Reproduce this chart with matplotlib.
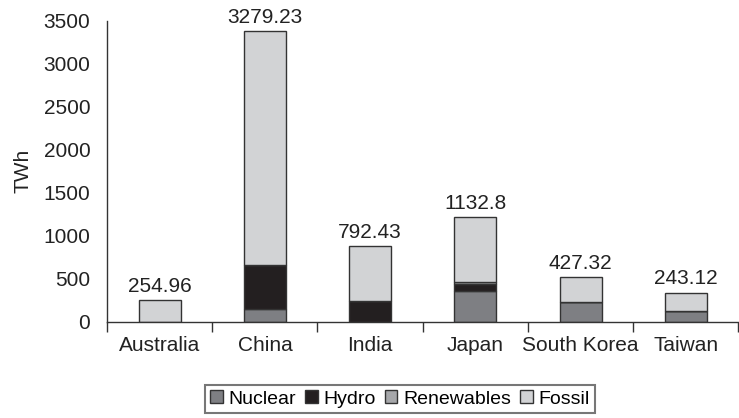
import matplotlib
matplotlib.use("Agg")
import matplotlib.pyplot as plt
import numpy as np

countries = ["Australia", "China", "India", "Japan", "South Korea", "Taiwan"]
nuclear = [0, 148, 0, 357, 233, 128]
hydro = [0, 507, 237, 78, 0, 0]
renewables = [0, 0, 0, 31, 0, 0]
fossil = [255, 2729, 644, 756, 287, 210]
value_labels = ["254.96", "3279.23", "792.43", "1132.8", "427.32", "243.12"]

series_names = ["Nuclear", "Hydro", "Renewables", "Fossil"]
colors = ["#7e7f83", "#231f20", "#a6a7aa", "#d2d3d5"]
EDGE = "#333333"
FS = 15

plt.rcParams["font.family"] = ["Liberation Sans", "DejaVu Sans"]

fig = plt.figure(figsize=(7.39, 4.18), dpi=100)
ax = fig.add_axes([0.1448, 0.2304, 0.8545, 0.7196])

x = np.arange(len(countries))
bottom = np.zeros(len(countries))
for name, vals, col in zip(series_names, [nuclear, hydro, renewables, fossil], colors):
    vals = np.array(vals, dtype=float)
    ax.bar(x, vals, 0.4, bottom=bottom, color=col, edgecolor=EDGE,
           linewidth=1.0, label=name)
    bottom = bottom + vals

for xi, top, lab in zip(x, bottom, value_labels):
    ax.annotate(lab, (xi, top), xytext=(0, 3), textcoords="offset points",
                ha="center", va="bottom", fontsize=FS, color="#222222")

ax.set_xlim(-0.5, len(countries) - 0.5)
ax.set_ylim(0, 3500)
ax.set_yticks(np.arange(0, 3501, 500))
ax.set_xticks(x)
ax.set_xticklabels(countries)
ax.set_xticks(np.arange(-0.5, len(countries), 1.0), minor=True)
ax.tick_params(axis="x", which="major", length=0, pad=10, labelsize=FS,
               labelcolor="#222222")
ax.tick_params(axis="x", which="minor", length=7, width=1.0, color=EDGE)
ax.tick_params(axis="y", length=0, pad=12, labelsize=FS, labelcolor="#222222")
ax.set_ylabel("TWh", fontsize=FS, color="#222222", labelpad=8)

for side in ["top", "right"]:
    ax.spines[side].set_visible(False)
for side in ["left", "bottom"]:
    ax.spines[side].set_color(EDGE)
    ax.spines[side].set_linewidth(1.0)

leg = ax.legend(loc="center", bbox_to_anchor=(400 / 739, 1 - 399 / 418),
                bbox_transform=fig.transFigure, ncol=4, fontsize=14,
                frameon=True, fancybox=False, edgecolor="#555555",
                handlelength=0.65, handleheight=0.65, handletextpad=0.3,
                columnspacing=0.45, borderpad=0.3, borderaxespad=0)
leg.get_frame().set_linewidth(1.5)

fig.savefig("out.png", dpi=100)
